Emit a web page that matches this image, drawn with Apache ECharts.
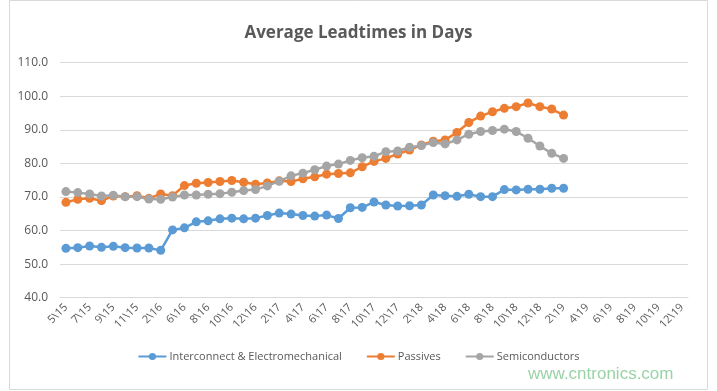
<!DOCTYPE html>
<html>
<head>
<meta charset="utf-8">
<script src="https://cdn.jsdelivr.net/npm/echarts@6/dist/echarts.min.js"></script>
<style>
html,body{margin:0;padding:0;background:#fff;}
#chart{width:717px;height:391px;}
</style>
</head>
<body>
<div id="chart"></div>
<script>
const categories = ['5\\15','6\\15','7\\15','8\\15','9\\15','10\\15','11\\15','1\\16','2\\16','5\\16',
  '6\\16','7\\16','8\\16','9\\16','10\\16','11\\16','12\\16','1\\17','2\\17','3\\17',
  '4\\17','5\\17','6\\17','7\\17','8\\17','9\\17','10\\17','11\\17','12\\17','1\\18',
  '2\\18','3\\18','4\\18','5\\18','6\\18','7\\18','8\\18','9\\18','10\\18','11\\18',
  '12\\18','1\\19','2\\19','3\\19','4\\19','5\\19','6\\19','7\\19','8\\19','9\\19',
  '10\\19','11\\19','12\\19'];

const interconnect = [54.7,54.9,55.4,55.0,55.3,54.9,54.8,54.8,54.1,60.2,
  60.8,62.6,62.9,63.5,63.7,63.5,63.7,64.5,65.2,64.9,
  64.5,64.3,64.6,63.6,66.8,66.9,68.5,67.6,67.3,67.4,
  67.6,70.6,70.4,70.2,70.8,70.1,70.1,72.2,72.1,72.3,
  72.3,72.6,72.6];

const passives = [68.4,69.3,69.6,68.9,70.3,70.1,70.4,69.6,70.9,70.4,
  73.4,74.1,74.3,74.6,74.9,74.4,73.8,74.2,74.8,74.6,
  75.4,76.0,76.8,77.0,77.2,79.0,80.6,81.5,82.8,84.0,
  85.5,86.6,87.0,89.2,92.2,94.1,95.4,96.4,96.9,98.0,
  96.9,96.2,94.4];

const semiconductors = [71.6,71.3,70.9,70.3,70.5,70.1,70.1,69.4,69.3,70.0,
  70.6,70.6,70.8,71.0,71.4,71.9,72.2,73.3,74.7,76.3,
  77.1,78.1,79.2,79.8,80.9,81.7,82.1,83.5,83.7,84.8,
  85.3,86.2,85.8,87.0,88.7,89.5,89.8,90.2,89.5,87.5,
  85.2,83.0,81.5];

const seriesNames = ['Interconnect & Electromechanical','Passives','Semiconductors'];
const colors = ['#5B9BD5','#ED7D31','#A5A5A5'];
const yTicks = {min:40, max:110, interval:10};

const chart = echarts.init(document.getElementById('chart'), null, {renderer:'canvas'});
const font = '"Open Sans", "Liberation Sans", sans-serif';

function mk(name, data, color){
  return {
    name, type:'line', data,
    symbol:'circle', symbolSize:9,
    showSymbol:true, showAllSymbol:true,
    lineStyle:{width:2.5,color},
    itemStyle:{color},
    animation:false
  };
}

chart.setOption({
  animation:false,
  graphic:[
    {type:'rect', shape:{x:9.5,y:0.5,width:698,height:389}, style:{fill:'none',stroke:'#d9d9d9',lineWidth:1}, z:-1},
    {type:'text', left:528, top:366, style:{text:'www.cntronics.com', fill:'#9ad3a6', font:'17px "Liberation Sans", sans-serif'}}
  ],
  title:{
    text:'Average Leadtimes in Days',
    left:'center', top:20,
    textStyle:{fontFamily:font, fontWeight:'bold', fontSize:17, color:'#595959'}
  },
  grid:{left:60, right:29, top:62.7, bottom:93.3, containLabel:false},
  legend:{
    data:seriesNames,
    bottom:24, left:'center',
    itemWidth:28, itemHeight:9, itemGap:24,
    textStyle:{fontFamily:font, fontSize:11, color:'#595959', padding:[0,0,0,-2]}
  },
  xAxis:{
    type:'category', data:categories, boundaryGap:true,
    axisLine:{lineStyle:{color:'#d9d9d9'}},
    axisTick:{show:false},
    axisLabel:{interval:1, rotate:45, fontFamily:font, fontSize:11, color:'#595959', margin:8}
  },
  yAxis:{
    type:'value', min:yTicks.min, max:yTicks.max, interval:yTicks.interval,
    axisLine:{show:false}, axisTick:{show:false},
    splitLine:{lineStyle:{color:'#d9d9d9'}},
    axisLabel:{fontFamily:font, fontSize:12, color:'#595959', margin:12, formatter:v=>v.toFixed(1)}
  },
  series:[
    mk(seriesNames[0], interconnect, colors[0]),
    mk(seriesNames[1], passives, colors[1]),
    mk(seriesNames[2], semiconductors, colors[2])
  ]
});
</script>
</body>
</html>
